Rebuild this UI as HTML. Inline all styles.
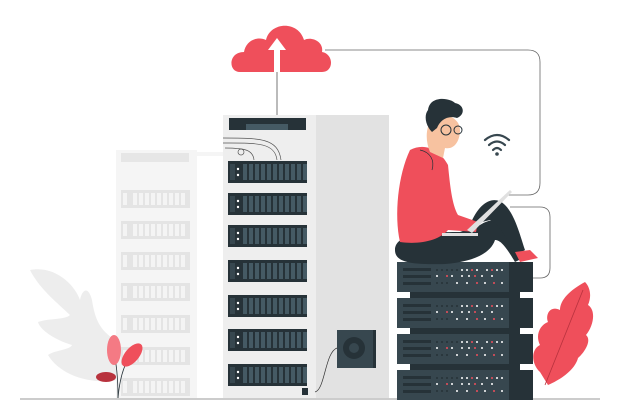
<!DOCTYPE html>
<html><head><style>html,body{margin:0;padding:0;background:#fff;width:618px;height:403px;overflow:hidden}</style></head>
<body>
<svg width="618" height="403" viewBox="0 0 618 403" xmlns="http://www.w3.org/2000/svg">
<defs>
<g id="unit">
<rect x="0" y="0" width="79" height="22" fill="#263238"/>
<rect x="2" y="3" width="5" height="16" fill="#37474f"/>
<circle cx="10" cy="8" r="1.2" fill="#fff"/><circle cx="10" cy="14" r="1.2" fill="#fff"/>
<g fill="#455a64">
<rect x="15" y="3" width="4" height="16"/><rect x="21" y="3" width="4" height="16"/><rect x="27" y="3" width="4" height="16"/><rect x="33" y="3" width="4" height="16"/><rect x="39" y="3" width="4" height="16"/><rect x="45" y="3" width="4" height="16"/><rect x="51" y="3" width="4" height="16"/><rect x="57" y="3" width="4" height="16"/><rect x="63" y="3" width="4" height="16"/><rect x="69" y="3" width="4" height="16"/><rect x="75" y="3" width="4" height="16"/>
</g></g>
<g id="bunit">
<rect x="0" y="0" width="69" height="18" fill="#e4e4e4"/>
<g fill="#f4f4f4"><rect x="2" y="3" width="4" height="12"/><rect x="12" y="3" width="4" height="12"/><rect x="18" y="3" width="4" height="12"/><rect x="24" y="3" width="4" height="12"/><rect x="30" y="3" width="4" height="12"/><rect x="36" y="3" width="4" height="12"/><rect x="42" y="3" width="4" height="12"/><rect x="48" y="3" width="4" height="12"/><rect x="54" y="3" width="4" height="12"/><rect x="60" y="3" width="4" height="12"/></g>
</g>
<g id="rack">
<rect x="0" y="0" width="136" height="30" fill="#37474f"/>
<rect x="112" y="0" width="24" height="30" fill="#263238"/>
<rect x="6" y="6" width="28" height="3" fill="#263238"/><rect x="6" y="13" width="28" height="3" fill="#263238"/><rect x="6" y="20" width="28" height="3" fill="#263238"/>
<g fill="#263238"><circle cx="40" cy="8" r="1"/><circle cx="45" cy="8" r="1"/><circle cx="50" cy="8" r="1"/><circle cx="55" cy="8" r="1"/><circle cx="60" cy="8" r="1"/><circle cx="40" cy="21" r="1"/><circle cx="45" cy="21" r="1"/><circle cx="50" cy="21" r="1"/></g>
<g fill="#fff"><circle cx="65" cy="8" r="1"/><circle cx="70" cy="8" r="1"/><circle cx="80" cy="8" r="1"/><circle cx="90" cy="8" r="1"/><circle cx="100" cy="8" r="1"/><circle cx="105" cy="8" r="1"/><circle cx="40" cy="14" r="1"/><circle cx="55" cy="14" r="1"/><circle cx="65" cy="14" r="1"/><circle cx="72" cy="14" r="1"/><circle cx="85" cy="14" r="1"/><circle cx="95" cy="14" r="1"/><circle cx="60" cy="21" r="1"/><circle cx="70" cy="21" r="1"/><circle cx="88" cy="21" r="1"/><circle cx="105" cy="21" r="1"/></g>
<g fill="#ef4f5b"><circle cx="75" cy="8" r="1"/><circle cx="95" cy="8" r="1"/><circle cx="50" cy="14" r="1"/><circle cx="78" cy="14" r="1"/><circle cx="80" cy="21" r="1"/><circle cx="97" cy="21" r="1"/></g>
</g>
</defs>
<!-- ground -->
<line x1="20" y1="399" x2="600" y2="399" stroke="#9a9a9a" stroke-width="1"/>
<!-- left faint leaf -->
<path d="M30 270 C55 265 75 285 80 300 C82 290 88 285 92 300 C95 320 100 330 115 340 L118 380 C90 385 60 375 48 355 C55 350 70 350 72 345 C55 340 40 330 38 322 C50 318 65 320 70 315 C60 305 40 290 30 270Z" fill="#ededed"/>
<!-- background tower -->
<rect x="116" y="150" width="81" height="248" fill="#f5f5f5"/>
<rect x="197" y="152" width="26" height="4" fill="#f5f5f5"/>
<rect x="121" y="153" width="68" height="9" fill="#e6e6e6"/>
<use href="#bunit" x="121" y="190"/><use href="#bunit" x="121" y="221"/><use href="#bunit" x="121" y="252"/><use href="#bunit" x="121" y="283"/><use href="#bunit" x="121" y="315"/><use href="#bunit" x="121" y="347"/><use href="#bunit" x="121" y="378"/>
<!-- red plant -->
<path d="M118 398 C118 370 115 355 112 345" stroke="#263238" stroke-width="0.8" fill="none"/>
<path d="M118 398 C120 375 125 360 138 345" stroke="#263238" stroke-width="0.8" fill="none"/>
<ellipse cx="114" cy="350" rx="7" ry="15" fill="#f47a84"/>
<ellipse cx="132" cy="355" rx="7" ry="14" fill="#ef4f5b" transform="rotate(40 132 355)"/>
<ellipse cx="106" cy="377" rx="10" ry="5" fill="#b8323d"/>
<!-- main tower -->
<rect x="223" y="115" width="94" height="283" fill="#eeeeee"/>
<rect x="316" y="115" width="73" height="283" fill="#e2e2e2"/>
<rect x="229" y="118" width="77" height="12" fill="#263238"/>
<rect x="246" y="124" width="42" height="6" fill="#455a64"/>
<path d="M223 138 C260 138 278 138 281 160 M223 143 C255 143 275 142 277 160 M225 148 C245 148 253 150 254 160" stroke="#555" stroke-width="0.7" fill="none"/>
<circle cx="241" cy="152" r="3" stroke="#555" stroke-width="0.7" fill="none"/>
<use href="#unit" x="228" y="161"/><use href="#unit" x="228" y="193"/><use href="#unit" x="228" y="225"/><use href="#unit" x="228" y="260"/><use href="#unit" x="228" y="295"/><use href="#unit" x="228" y="329"/><use href="#unit" x="228" y="364"/>
<rect x="337" y="330" width="39" height="38" fill="#37474f"/>
<rect x="373" y="330" width="3" height="38" fill="#263238"/>
<circle cx="354" cy="348" r="11" fill="#263238"/><circle cx="354" cy="348" r="5" fill="#37474f"/>
<path d="M337 348 C325 352 325 390 315 392" stroke="#333" stroke-width="0.7" fill="none"/>
<rect x="302" y="388" width="6" height="7" fill="#263238"/>
<!-- cloud and connectors -->
<line x1="277" y1="70" x2="277" y2="115" stroke="#555" stroke-width="0.8"/>
<path d="M325 50 L528 50 Q540 50 540 62 L540 183 Q540 195 528 195 L508 195" stroke="#666" stroke-width="0.8" fill="none"/>
<path d="M510 207 L540 207 Q550 207 550 217 L550 268 Q550 278 540 278 L530 278" stroke="#666" stroke-width="0.8" fill="none"/>
<path d="M240 72 C228 72 228 52 244 52 C246 40 258 36 266 40 C270 22 298 20 304 40 C312 36 324 42 322 52 C334 54 334 72 322 72 Z" fill="#ef4f5b"/>
<path d="M277 38 L268 50 L274 50 L274 72 L280 72 L280 50 L286 50 Z" fill="#fff"/>
<!-- wifi -->
<g stroke="#37474f" stroke-width="2.2" fill="none" stroke-linecap="round">
<path d="M485 140 Q497 130 509 140"/><path d="M489 145 Q497 138 505 145"/><path d="M493 150 Q497 146 501 150"/></g>
<circle cx="497" cy="154" r="1.8" fill="#37474f"/>
<!-- server stack -->
<rect x="410" y="262" width="110" height="138" fill="#263238"/>
<use href="#rack" x="397" y="262"/><use href="#rack" x="397" y="298"/><use href="#rack" x="397" y="334"/><use href="#rack" x="397" y="370"/>
<!-- right red leaf -->
<path d="M585 282 C570 290 560 300 560 310 C550 305 545 315 548 322 C540 325 535 335 540 345 C530 350 532 365 540 372 L548 385 C560 380 575 370 578 358 C585 352 592 340 586 335 C594 325 596 310 588 305 C592 296 590 287 585 282Z" fill="#ef4f5b"/>
<path d="M545 385 L583 290" stroke="#b8323d" stroke-width="0.8"/>
<!-- person -->
<path d="M395 250 C395 235 420 232 460 232 L480 225 C495 215 510 220 518 250 L523 258 L515 262 C505 245 500 240 495 240 C490 255 470 262 445 264 C410 265 395 262 395 250Z" fill="#263238"/>
<path d="M470 225 C480 200 495 195 505 205 C515 215 520 235 525 250 L515 256 C508 240 500 225 490 220Z" fill="#263238"/>
<path d="M515 252 L530 250 L538 258 L520 262Z" fill="#ef4f5b"/>
<path d="M410 150 C425 142 440 150 448 165 C450 185 452 205 458 215 L478 222 L476 232 L448 230 C440 240 420 245 400 242 C394 215 398 175 410 150Z" fill="#ef4f5b"/>
<path d="M420 150 C430 152 435 160 432 170" stroke="#263238" stroke-width="0.7" fill="none"/>
<path d="M467 230 L510 190 L512 192 L472 233Z" fill="#e0e0e0"/>
<path d="M442 233 L478 233 L478 236 L442 236Z" fill="#e0e0e0"/>
<path d="M435 115 C445 112 460 118 460 130 C460 140 455 150 445 148 L443 158 L430 152 C425 140 425 125 435 115Z" fill="#f7c2a0"/>
<path d="M428 110 C430 95 450 98 455 103 C465 105 465 115 457 118 C448 115 440 120 437 128 L432 132 C425 125 424 115 428 110Z" fill="#263238"/>
<circle cx="446" cy="130" r="5" stroke="#263238" stroke-width="1" fill="none"/>
<circle cx="458" cy="130" r="4" stroke="#263238" stroke-width="1" fill="none"/>
</svg>
</body></html>
